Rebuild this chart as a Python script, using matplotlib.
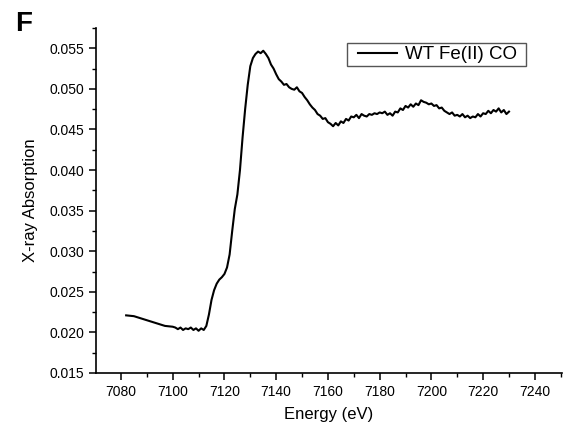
import matplotlib
matplotlib.use("Agg")
import matplotlib.pyplot as plt
from matplotlib.ticker import MultipleLocator
from matplotlib.patches import Rectangle

plt.rcParams['font.family'] = ['Liberation Sans', 'DejaVu Sans']

energy_pre = [7082, 7085, 7088, 7091, 7094, 7097, 7100]
absorb_pre = [0.0221, 0.0220, 0.0217, 0.0214, 0.0211, 0.0208, 0.0207]

energy_main = list(range(7101, 7231))
absorb_main = [
    0.0206, 0.0204, 0.0206, 0.0203, 0.0205, 0.0204, 0.0206, 0.0203, 0.0205, 0.0202,
    0.0205, 0.0203, 0.0208, 0.0222, 0.0240, 0.0252, 0.0260, 0.0265, 0.0268, 0.0272,
    0.0280, 0.0296, 0.0325, 0.0352, 0.0370, 0.0400, 0.0440, 0.0475, 0.0505, 0.0528,
    0.0538, 0.0543, 0.0546, 0.0544, 0.0547, 0.0543, 0.0538, 0.0530, 0.0525, 0.0518,
    0.0512, 0.0509, 0.0505, 0.0506, 0.0502, 0.0500, 0.0499, 0.0502, 0.0497, 0.0495,
    0.0490, 0.0486, 0.0481, 0.0477, 0.0474, 0.0469, 0.0467, 0.0463, 0.0464, 0.0459,
    0.0457, 0.0454, 0.0458, 0.0455, 0.0460, 0.0458, 0.0463, 0.0461, 0.0466, 0.0465,
    0.0468, 0.0464, 0.0469, 0.0467, 0.0466, 0.0469, 0.0468, 0.0470, 0.0469, 0.0471,
    0.0470, 0.0472, 0.0468, 0.0470, 0.0467, 0.0472, 0.0471, 0.0476, 0.0474, 0.0479,
    0.0477, 0.0481, 0.0478, 0.0482, 0.0480, 0.0486, 0.0484, 0.0483, 0.0481, 0.0482,
    0.0479, 0.0480, 0.0476, 0.0477, 0.0473, 0.0471, 0.0469, 0.0471, 0.0467, 0.0468,
    0.0466, 0.0469, 0.0465, 0.0467, 0.0464, 0.0466, 0.0465, 0.0469, 0.0466, 0.0470,
    0.0469, 0.0473, 0.0470, 0.0474, 0.0472, 0.0476, 0.0471, 0.0474, 0.0469, 0.0472,
]

energy = energy_pre + energy_main
absorb = absorb_pre + absorb_main
series_label = "WT Fe(II) CO"

fig = plt.figure(figsize=(5.64, 4.33), dpi=100)
ax = fig.add_axes([0.170, 0.1386, 0.8265, 0.7967])
ax.plot(energy, absorb, color='black', lw=1.5, label=series_label)

ax.set_xlim(7070.3, 7250.5)
ax.set_ylim(0.015, 0.0575)
ax.xaxis.set_major_locator(MultipleLocator(20))
ax.xaxis.set_minor_locator(MultipleLocator(10))
ax.yaxis.set_major_locator(MultipleLocator(0.005))
ax.yaxis.set_minor_locator(MultipleLocator(0.0025))
ax.yaxis.set_major_formatter(plt.FormatStrFormatter('%.3f'))
ax.set_xticks([7080, 7100, 7120, 7140, 7160, 7180, 7200, 7220, 7240])

for s in ['top', 'right']:
    ax.spines[s].set_visible(False)
for s in ['left', 'bottom']:
    ax.spines[s].set_linewidth(1.2)
ax.tick_params(which='major', direction='out', length=5, width=1.1, labelsize=10)
ax.tick_params(which='minor', direction='out', length=3, width=1.0)

ax.set_xlabel("Energy (eV)", fontsize=12, labelpad=6)
ax.set_ylabel("X-ray Absorption", fontsize=12, labelpad=8)

leg = ax.legend(loc='center', bbox_to_anchor=(0.7757, 0.8741),
                bbox_transform=fig.transFigure, fontsize=13.5,
                frameon=False, handlelength=2.1, borderpad=0,
                handletextpad=0.4, borderaxespad=0)
fig.patches.append(Rectangle((0.6152, 0.8476), 0.3174, 0.0531,
                             transform=fig.transFigure, fill=False,
                             edgecolor='#555555', linewidth=1.0))

fig.text(0.026, 0.975, "F", fontsize=20, fontweight='bold', va='top', ha='left')

fig.savefig("out.png", dpi=100)
